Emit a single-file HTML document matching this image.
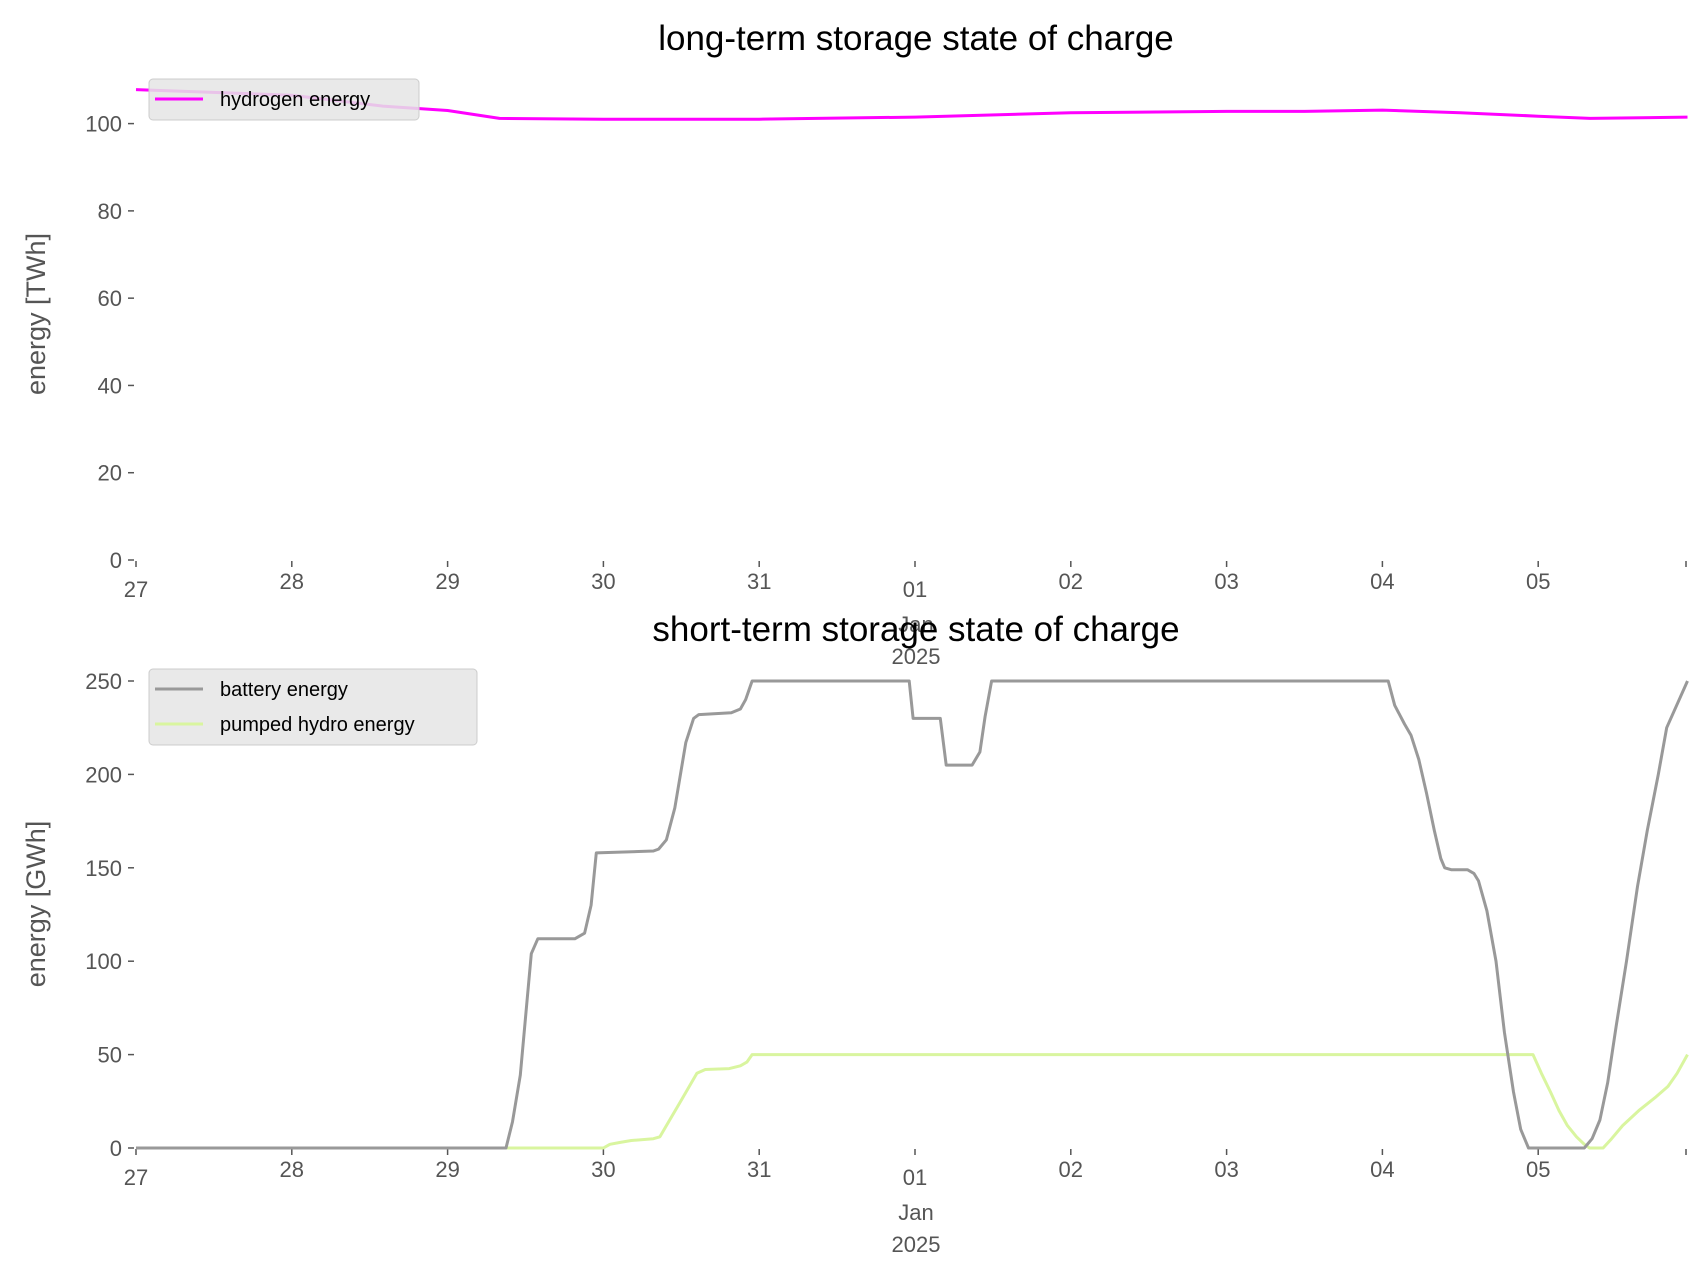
<!DOCTYPE html>
<html><head><meta charset="utf-8"><style>
body{margin:0;background:#fff;}
svg{display:block;font-family:"Liberation Sans","DejaVu Sans",sans-serif;}
</style></head><body>
<svg id="chart" width="1706" height="1277" viewBox="0 0 1706 1277">
<g id="panelTop"></g>
<g id="panelBot"></g>
</svg>
<script>
const dayLabels = ["27","28","29","30","31","01","02","03","04","05"];
const topTicks = [0,20,40,60,80,100];
const botTicks = [0,50,100,150,200,250];
const h2Hours = [0,24,38,48,56,72,96,120,144,168,180,192,204,216,224,239];
const h2Values = [107.8,106.5,104,103,101.2,101,101,101.5,102.5,102.8,102.8,103.1,102.5,101.7,101.2,101.5];
const batHours = [0,57,58,59.2,60.9,61.9,67.6,69.1,70.1,70.9,79.7,80.5,81.7,83,84.7,85.9,86.7,91.7,93.1,93.9,94.9,119.1,119.7,123.9,124.8,128.8,130,130.8,131.8,192.9,193.9,195.4,196.4,197.6,198.8,200,201,201.6,202.6,205.1,206.1,206.8,208.1,209.5,210.8,212.2,213.3,214.5,223.1,224.3,225.5,226.7,228,229.6,231.3,232.8,234.5,235.8,239];
const batValues = [0,0,14,39,104,112,112,115,130,158,159,160,165,182,217,230,232,233,235,240,250,250,230,230,205,205,212,231,250,250,237,227,221,208,190,170,155,150,149,149,147,143,127,100,62,30,10,0,0,5,15,35,65,100,140,170,200,225,250];
const phHours = [0,72,73,74.6,76.3,79.7,80.7,81.7,83.9,86.4,87.7,91.4,93.1,94.1,94.9,215.2,216.5,217.9,219.2,220.5,221.9,223.1,223.9,226,227.3,229,231.5,234,236,237.4,239];
const phValues = [0,0,2,3,4,5,6,12,25,40,42,42.5,44,46,50,50,40,30,20,12,6,2,0,0,5,12,20,27,33,40,50];

const NS="http://www.w3.org/2000/svg";
const X0=136, PXH=155.8/24;
const xs=h=>X0+h*PXH;
const yTop=v=>560-v*4.364;
const yBot=v=>1148-v*1.868;
function mk(tag,attrs,parent,text){const e=document.createElementNS(NS,tag);for(const k in attrs)e.setAttribute(k,attrs[k]);if(text!==undefined)e.textContent=text;parent.appendChild(e);return e;}

function panel(g,base,yf,ticks,title,titleY,ylabel,ylabelY){
  const t=mk('text',{x:916,y:titleY,'text-anchor':'middle','font-size':35,fill:'#000'},g,title);
  
  
  ticks.forEach(v=>{
    const l=mk('line',{x1:128,x2:134,y1:yf(v),y2:yf(v),stroke:'#555','stroke-width':1.5},g);
    
    
    const tx=mk('text',{x:122,y:yf(v)+8,'text-anchor':'end','font-size':22,fill:'#555'},g,String(v));
    
    
  });
  dayLabels.forEach((d,i)=>{
    const xx=X0+i*155.8;
    const l=mk('line',{x1:xx,x2:xx,y1:base+1,y2:base+7,stroke:'#555','stroke-width':1.5},g);
    
    
    const big=(i===0||i===5);
    const tx=mk('text',{x:xx,y:base+(big?37:29),'text-anchor':'middle','font-size':22,fill:'#555'},g,d);
    
    
  });
  const l=mk('line',{x1:1686,x2:1686,y1:base+1,y2:base+7,stroke:'#555','stroke-width':1.5},g);
  
  
  const j=mk('text',{x:916,y:base+72,'text-anchor':'middle','font-size':22,fill:'#555'},g,'Jan');
  
  
  const yr=mk('text',{x:916,y:base+104,'text-anchor':'middle','font-size':22,fill:'#555'},g,'2025');
  
  
  const yl=mk('text',{x:0,y:0,'text-anchor':'middle','font-size':27,fill:'#555',transform:`translate(45,${ylabelY}) rotate(-90)`},g,ylabel);
  
  
}
function series(g,hs,vs,yf,color,name){
  const d=hs.map((h,i)=>(i?'L':'M')+xs(h).toFixed(1)+','+yf(vs[i]).toFixed(1)).join('');
  const p=mk('path',{d:d,fill:'none',stroke:color,'stroke-width':3,'stroke-linejoin':'round'},g);
  
  
}
function legend(g,x0,y0,w,entries){
  const r=mk('rect',{x:x0,y:y0,width:w,height:entries.length*35+6,rx:4,fill:'#e5e5e5','fill-opacity':0.85,stroke:'#cccccc'},g);
  
  
  entries.forEach((e,i)=>{
    const cy=y0+20+i*35;
    const l=mk('line',{x1:x0+6,x2:x0+54,y1:cy,y2:cy,stroke:e[1],'stroke-width':3},g);
    
    
    const t=mk('text',{x:x0+71,y:cy+7,'font-size':20,fill:'#000'},g,e[0]);
    
    
  });
}
const gTop=document.getElementById('panelTop'), gBot=document.getElementById('panelBot');
panel(gTop,560,yTop,topTicks,'long-term storage state of charge',50,'energy [TWh]',314);
series(gTop,h2Hours,h2Values,yTop,'#ff00ff','hydrogen-line');
legend(gTop,149,79,270,[['hydrogen energy','#ff00ff']]);
panel(gBot,1148,yBot,botTicks,'short-term storage state of charge',641,'energy [GWh]',904);
series(gBot,phHours,phValues,yBot,'#d9f59f','pumped-hydro-line');
series(gBot,batHours,batValues,yBot,'#999999','battery-line');
legend(gBot,149,669,328,[['battery energy','#999999'],['pumped hydro energy','#d9f59f']]);
</script>
</body></html>
